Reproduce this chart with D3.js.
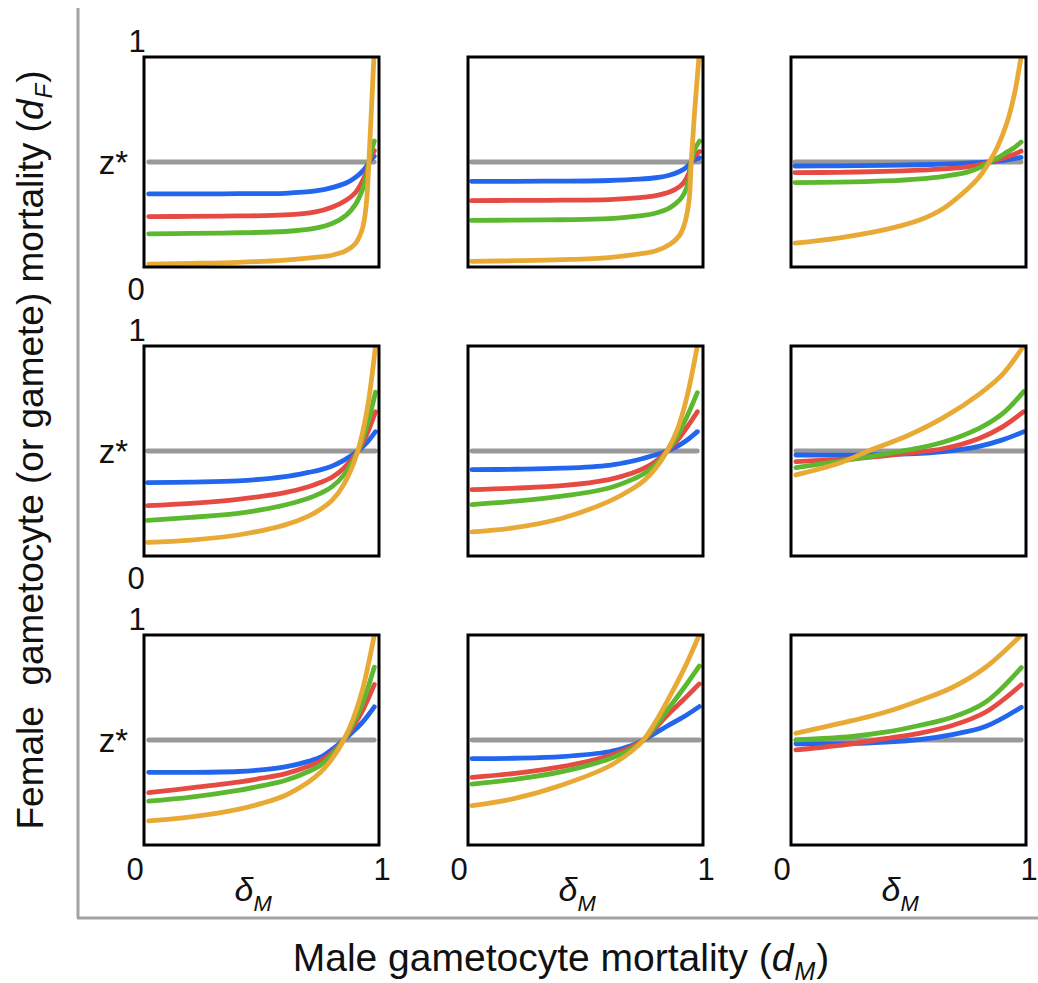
<!DOCTYPE html>
<html><head><meta charset="utf-8">
<script src="https://cdn.jsdelivr.net/npm/d3@7/dist/d3.min.js"></script>
<style>body{margin:0;background:#fff}svg{display:block}text{font-family:"Liberation Sans",Arial,sans-serif;fill:#111}</style>
</head><body>
<svg id="c" width="1038" height="983"></svg>
<script>
// ---- data ----
const zStar = 0.5;
const seriesNames = ["blue", "red", "green", "orange"];
const seriesColors = ["#2266ee", "#e54b43", "#5cb82f", "#e8a935"];
const axisTicks = ["0", "1"];

// Panel A (row 1, col 1)
const xA = [0.02, 0.2, 0.4, 0.6, 0.73, 0.8, 0.86, 0.9, 0.93, 0.946, 0.957, 0.967, 0.98];
const blueA = [0.348, 0.348, 0.349, 0.351, 0.362, 0.378, 0.40, 0.427, 0.456, 0.478, 0.5, 0.513, 0.527];
const redA = [0.24, 0.241, 0.243, 0.248, 0.263, 0.285, 0.318, 0.355, 0.41, 0.452, 0.5, 0.528, 0.554];
const greenA = [0.158, 0.16, 0.163, 0.169, 0.185, 0.207, 0.246, 0.298, 0.37, 0.43, 0.5, 0.55, 0.60];
const orangeA = [0.014, 0.017, 0.022, 0.033, 0.046, 0.056, 0.078, 0.112, 0.185, 0.3, 0.5, 0.73, 1.04];

// Panel B (row 1, col 2)
const xB = [0.015, 0.2, 0.4, 0.6, 0.73, 0.8, 0.86, 0.9, 0.92, 0.94, 0.95, 0.965, 0.985];
const blueB = [0.408, 0.408, 0.409, 0.412, 0.418, 0.425, 0.438, 0.455, 0.467, 0.486, 0.5, 0.51, 0.52];
const redB = [0.316, 0.317, 0.318, 0.321, 0.33, 0.34, 0.358, 0.383, 0.405, 0.448, 0.5, 0.53, 0.55];
const greenB = [0.222, 0.223, 0.225, 0.23, 0.243, 0.257, 0.283, 0.318, 0.35, 0.415, 0.5, 0.56, 0.60];
const orangeB = [0.027, 0.03, 0.035, 0.045, 0.062, 0.077, 0.108, 0.15, 0.2, 0.31, 0.5, 0.75, 1.03];

// Panel C (row 1, col 3)
const xC = [0.017, 0.2, 0.4, 0.55, 0.65, 0.75, 0.8, 0.844, 0.88, 0.92, 0.95, 0.979];
const blueC = [0.481, 0.482, 0.484, 0.487, 0.49, 0.494, 0.497, 0.5, 0.504, 0.51, 0.516, 0.522];
const redC = [0.449, 0.451, 0.455, 0.461, 0.467, 0.477, 0.487, 0.5, 0.51, 0.525, 0.537, 0.552];
const greenC = [0.402, 0.404, 0.41, 0.42, 0.432, 0.452, 0.472, 0.5, 0.52, 0.548, 0.568, 0.595];
const orangeC = [0.114, 0.138, 0.178, 0.225, 0.28, 0.37, 0.427, 0.5, 0.575, 0.69, 0.82, 1.0];

// Panel D (row 2, col 1)
const xD = [0.015, 0.2, 0.4, 0.6, 0.7, 0.75, 0.8, 0.85, 0.91, 0.95, 0.985];
const blueD = [0.349, 0.352, 0.358, 0.378, 0.398, 0.41, 0.428, 0.455, 0.5, 0.542, 0.592];
const redD = [0.24, 0.251, 0.27, 0.302, 0.33, 0.35, 0.375, 0.418, 0.5, 0.585, 0.687];
const greenD = [0.17, 0.184, 0.203, 0.243, 0.275, 0.298, 0.33, 0.385, 0.5, 0.625, 0.78];
const orangeD = [0.065, 0.076, 0.1, 0.148, 0.19, 0.222, 0.265, 0.34, 0.5, 0.7, 1.0];

// Panel E (row 2, col 2)
const xE = [0.017, 0.2, 0.4, 0.6, 0.7, 0.75, 0.8, 0.847, 0.89, 0.93, 0.976];
const blueE = [0.411, 0.413, 0.418, 0.432, 0.452, 0.466, 0.482, 0.5, 0.522, 0.55, 0.592];
const redE = [0.316, 0.323, 0.335, 0.364, 0.395, 0.418, 0.452, 0.5, 0.55, 0.61, 0.687];
const greenE = [0.245, 0.261, 0.285, 0.324, 0.365, 0.393, 0.437, 0.5, 0.57, 0.66, 0.778];
const orangeE = [0.115, 0.135, 0.18, 0.26, 0.32, 0.36, 0.42, 0.5, 0.6, 0.75, 1.0];

// Panel F (row 2, col 3)
const xF = [0.021, 0.2, 0.33, 0.5, 0.65, 0.8, 0.9, 0.99];
const blueF = [0.481, 0.48, 0.481, 0.486, 0.497, 0.522, 0.553, 0.592];
const redF = [0.449, 0.46, 0.47, 0.49, 0.512, 0.56, 0.615, 0.687];
const greenF = [0.421, 0.45, 0.472, 0.505, 0.543, 0.608, 0.678, 0.783];
const orangeF = [0.386, 0.44, 0.5, 0.575, 0.66, 0.77, 0.865, 1.0];

// Panel G (row 3, col 1)
const xG = [0.02, 0.2, 0.4, 0.5, 0.6, 0.7, 0.75, 0.8, 0.85, 0.89, 0.93, 0.98];
const blueG = [0.346, 0.346, 0.35, 0.358, 0.372, 0.398, 0.418, 0.455, 0.5, 0.54, 0.585, 0.658];
const redG = [0.249, 0.272, 0.299, 0.318, 0.339, 0.375, 0.4, 0.44, 0.5, 0.565, 0.64, 0.764];
const greenG = [0.209, 0.228, 0.26, 0.282, 0.307, 0.35, 0.38, 0.43, 0.5, 0.58, 0.675, 0.847];
const orangeG = [0.115, 0.134, 0.17, 0.198, 0.236, 0.3, 0.345, 0.41, 0.5, 0.6, 0.74, 1.0];

// Panel H (row 3, col 2)
const xH = [0.017, 0.2, 0.4, 0.6, 0.7, 0.747, 0.8, 0.85, 0.92, 0.984];
const blueH = [0.411, 0.413, 0.421, 0.444, 0.475, 0.5, 0.535, 0.568, 0.612, 0.659];
const redH = [0.322, 0.341, 0.373, 0.425, 0.47, 0.5, 0.56, 0.62, 0.695, 0.767];
const greenH = [0.29, 0.313, 0.349, 0.41, 0.46, 0.5, 0.57, 0.645, 0.75, 0.852];
const orangeH = [0.187, 0.222, 0.286, 0.375, 0.45, 0.5, 0.59, 0.69, 0.84, 1.0];

// Panel I (row 3, col 3)
const xI = [0.021, 0.26, 0.4, 0.545, 0.686, 0.827, 0.98];
const blueI = [0.482, 0.483, 0.49, 0.502, 0.526, 0.564, 0.656];
const redI = [0.453, 0.482, 0.506, 0.532, 0.569, 0.632, 0.763];
const greenI = [0.5, 0.517, 0.537, 0.569, 0.608, 0.68, 0.845];
const orangeI = [0.532, 0.592, 0.632, 0.687, 0.75, 0.845, 1.0];

const panelX = [xA, xB, xC, xD, xE, xF, xG, xH, xI];
const panelBlue = [blueA, blueB, blueC, blueD, blueE, blueF, blueG, blueH, blueI];
const panelRed = [redA, redB, redC, redD, redE, redF, redG, redH, redI];
const panelGreen = [greenA, greenB, greenC, greenD, greenE, greenF, greenG, greenH, greenI];
const panelOrange = [orangeA, orangeB, orangeC, orangeD, orangeE, orangeF, orangeG, orangeH, orangeI];

// ---- layout ----
const svg = d3.select("#c");
const colLeft = [144, 468, 791];
const rowTop = [57, 346, 635];
const pw = 235, ph = 210;
const lw = 4.8;

// outer frame axes (gray)
svg.append("line").attr("x1", 78).attr("y1", 8).attr("x2", 78).attr("y2", 918)
  .attr("stroke", "#a3a3a3").attr("stroke-width", 3);
svg.append("line").attr("x1", 77).attr("y1", 918).attr("x2", 1038).attr("y2", 918)
  .attr("stroke", "#a3a3a3").attr("stroke-width", 3);

for (let p = 0; p < 9; p++) {
  const r = Math.floor(p / 3), c = p % 3;
  const L = colLeft[c], T = rowTop[r];
  const x = d3.scaleLinear().domain([0, 1]).range([L, L + pw]);
  const y = d3.scaleLinear().domain([0, 1]).range([T + ph, T]);
  const g = svg.append("g");
  const clipId = "clip" + p;
  g.append("clipPath").attr("id", clipId).append("rect")
    .attr("x", L).attr("y", T).attr("width", pw).attr("height", ph);
  const xs = panelX[p];
  const line = d3.line().x(d => x(d[0])).y(d => y(d[1])).curve(d3.curveCatmullRom.alpha(0.5));
  const lg = g.append("g").attr("clip-path", `url(#${clipId})`);
  // z* reference line
  lg.append("path").datum([[xs[0], zStar], [xs[xs.length - 1], zStar]])
    .attr("d", line).attr("fill", "none").attr("stroke", "#999999")
    .attr("stroke-width", lw).attr("stroke-linecap", "round");
  const sets = [panelBlue[p], panelRed[p], panelGreen[p], panelOrange[p]];
  sets.forEach((vals, i) => {
    lg.append("path").datum(xs.map((xv, k) => [xv, vals[k]]))
      .attr("d", line).attr("fill", "none").attr("stroke", seriesColors[i])
      .attr("stroke-width", lw).attr("stroke-linecap", "round").attr("stroke-linejoin", "round");
  });
  // box
  g.append("rect").attr("x", L).attr("y", T).attr("width", pw).attr("height", ph)
    .attr("fill", "none").attr("stroke", "#000").attr("stroke-width", 3);

  if (c === 0) {
    g.append("text").attr("x", L - 7).attr("y", T - 5).attr("text-anchor", "middle")
      .attr("font-size", 31).text(axisTicks[1]);
    if (r < 2) {
      g.append("text").attr("x", L - 8).attr("y", T + ph + 33).attr("text-anchor", "middle")
        .attr("font-size", 31).text(axisTicks[0]);
    }
    g.append("text").attr("x", L - 16).attr("y", y(zStar) + 12).attr("text-anchor", "end")
      .attr("font-size", 33).text("z*");
  }
  if (r === 2) {
    g.append("text").attr("x", L - 9).attr("y", T + ph + 35).attr("text-anchor", "middle")
      .attr("font-size", 31).text(axisTicks[0]);
    g.append("text").attr("x", L + pw + 3).attr("y", T + ph + 35).attr("text-anchor", "middle")
      .attr("font-size", 31).text(axisTicks[1]);
    const cx = L + pw / 2 - 11;
    g.append("text").attr("x", cx + 3).attr("y", 901).attr("text-anchor", "end")
      .attr("font-size", 34).attr("font-style", "italic").text("δ");
    g.append("text").attr("x", cx + 3).attr("y", 911).attr("text-anchor", "start")
      .attr("font-size", 22).attr("font-style", "italic").text("M");
  }
}

// axis titles: main text + italic d, then subscript and ")" as separate texts placed after it
function title(parent, main, sub, fs) {
  const t = parent.append("text").attr("x", 0).attr("y", 0).attr("font-size", fs)
    .style("white-space", "pre");
  t.append("tspan").text(main);
  t.append("tspan").attr("font-style", "italic").text("d");
  const w1 = t.node().getComputedTextLength();
  const s = parent.append("text").attr("x", w1 + 1).attr("y", 9).attr("font-size", Math.round(fs * 0.65))
    .attr("font-style", "italic").text(sub);
  const w2 = s.node().getComputedTextLength();
  const cp = parent.append("text").attr("x", w1 + w2 + 2).attr("y", 0).attr("font-size", fs).text(")");
  const w3 = cp.node().getComputedTextLength();
  return w1 + w2 + 2 + w3;
}
const ytg = svg.append("g");
const yw = title(ytg, "Female  gametocyte (or gamete) mortality (", "F", 37);
ytg.attr("transform", `translate(43,450) rotate(-90) translate(${-yw / 2},0)`);

const xtg = svg.append("g");
const xw = title(xtg, "Male gametocyte mortality (", "M", 39);
xtg.attr("transform", `translate(${561 - xw / 2},971)`);
</script>
</body></html>
